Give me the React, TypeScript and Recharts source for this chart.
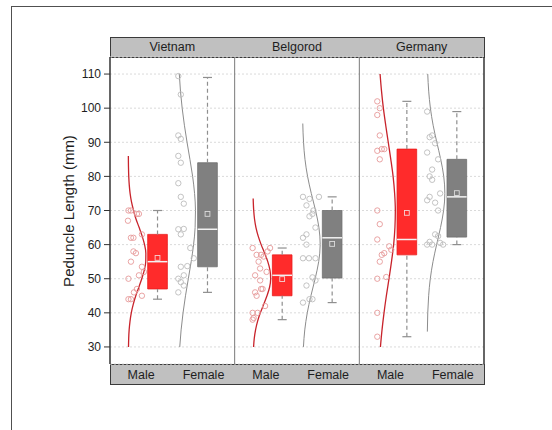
import React from "react";
import {
  ComposedChart,
  Scatter,
  Line,
  XAxis,
  YAxis,
  CartesianGrid,
  ReferenceArea,
  ReferenceLine,
} from "recharts";

const SITES = ["Vietnam", "Belgorod", "Germany"];
const SEXES = ["Male", "Female"];
const Y_TICKS = [30, 40, 50, 60, 70, 80, 90, 100, 110];
const Y_MINOR_TICKS = [35, 45, 55, 65, 75, 85, 95, 105];

// [min, q1, median, q3, max, mean] per site
const MALE_BOXES = [
  [44, 47, 55, 63, 70, 56.1],
  [38, 45, 51, 57, 59, 49.9],
  [33, 57, 61.5, 88, 102, 69.3],
];
const FEMALE_BOXES = [
  [46, 53.5, 64.5, 84, 109, 69],
  [43, 50.2, 62, 70, 74, 60.2],
  [60, 62.2, 74, 85, 99, 75.1],
];

// raw points: [length, jitter position inside the panel]
const VIETNAM_MALE = [
  [70, 0.37], [70, 0.42], [69, 0.54], [69, 0.58], [67, 0.36], [63, 0.64], [62, 0.42],
  [62, 0.47], [58, 0.47], [57.5, 0.52], [55, 0.42], [53.5, 0.64], [52, 0.68], [51, 0.58],
  [50, 0.37], [47, 0.54], [46, 0.48], [45, 0.64], [44, 0.37], [44, 0.42],
];
const VIETNAM_FEMALE = [
  [109.4, 1.37], [104, 1.42], [92, 1.37], [91, 1.42], [86, 1.37], [84, 1.42], [78, 1.37],
  [74, 1.42], [72, 1.48], [64.5, 1.37], [64.6, 1.48], [63, 1.42], [59, 1.61], [56, 1.68],
  [53.5, 1.42], [53.7, 1.55], [51, 1.48], [50, 1.37], [49, 1.42], [48, 1.48], [46, 1.37],
];
const BELGOROD_MALE = [
  [59, 0.36], [59, 0.71], [58, 0.66], [57, 0.44], [57, 0.53], [56.5, 0.58], [55, 0.48],
  [53, 0.51], [52, 0.64], [51, 0.41], [49.5, 0.51], [47, 0.53], [47, 0.56], [46, 0.41],
  [45, 0.44], [42, 0.61], [40, 0.36], [40, 0.46], [38.5, 0.38], [38, 0.36],
];
const BELGOROD_FEMALE = [
  [74, 1.37], [73.4, 1.5], [74, 1.69], [71.5, 1.44], [70, 1.58], [69, 1.56], [68.3, 1.5],
  [65, 1.62], [63, 1.44], [62, 1.37], [60, 1.44], [56, 1.37], [56, 1.49], [56, 1.62],
  [50.4, 1.56], [49.5, 1.62], [48, 1.44], [43, 1.37], [44, 1.5], [44, 1.56],
];
const GERMANY_MALE = [
  [102, 0.36], [100, 0.41], [98, 0.36], [92, 0.41], [87.5, 0.36], [88, 0.45], [88, 0.5],
  [85, 0.41], [70, 0.36], [66, 0.41], [61.5, 0.36], [59.5, 0.6], [58.5, 0.64], [57.5, 0.5],
  [57, 0.45], [55, 0.41], [50.5, 0.54], [50, 0.36], [40, 0.36], [33, 0.36],
];
const GERMANY_FEMALE = [
  [99, 1.36], [91.5, 1.41], [92, 1.46], [89.7, 1.52], [87, 1.36], [85, 1.58], [82, 1.46],
  [80, 1.41], [79, 1.46], [75, 1.62], [74, 1.41], [73, 1.36], [72.3, 1.52], [70, 1.58],
  [63, 1.52], [62.5, 1.58], [60, 1.36], [60.8, 1.41], [60, 1.46], [60.5, 1.62], [60, 1.68],
];

// distribution curves: [length, width of the curve]
const VIETNAM_MALE_CURVE = [
  [30, 0.004], [32.5, 0.008], [35, 0.017], [37.5, 0.034], [40, 0.06], [42.5, 0.099],
  [45, 0.15], [47.5, 0.211], [50, 0.27], [52.5, 0.321], [55, 0.35], [57.5, 0.352],
  [60, 0.326], [62.5, 0.278], [65, 0.218], [67.5, 0.154], [70, 0.105], [72.5, 0.064],
  [75, 0.036], [77.5, 0.019], [80, 0.009], [82.5, 0.004], [86, 0.001],
];
const VIETNAM_FEMALE_CURVE = [
  [30, 0.039], [35, 0.066], [40, 0.105], [45, 0.154], [50, 0.211], [55, 0.268],
  [60, 0.316], [65, 0.347], [70, 0.354], [75, 0.336], [80, 0.297], [85, 0.243],
  [90, 0.185], [95, 0.132], [100, 0.087], [105, 0.053], [110, 0.03],
];
const BELGOROD_MALE_CURVE = [
  [30, 0.012], [32.5, 0.026], [35, 0.052], [37.5, 0.092], [40, 0.148], [42.5, 0.215],
  [45, 0.281], [47.5, 0.333], [50, 0.355], [52.5, 0.341], [55, 0.297], [57.5, 0.233],
  [60, 0.164], [62.5, 0.105], [65, 0.06], [67.5, 0.031], [70, 0.015], [73.5, 0.004],
];
const BELGOROD_FEMALE_CURVE = [
  [30, 0.019], [35, 0.046], [40, 0.096], [45, 0.169], [50, 0.254], [55, 0.325],
  [60, 0.355], [65, 0.33], [70, 0.262], [75, 0.177], [80, 0.102], [85, 0.05],
  [90, 0.021], [95.5, 0.006],
];
const GERMANY_MALE_CURVE = [
  [30, 0.056], [35, 0.088], [40, 0.128], [45, 0.175], [50, 0.228], [55, 0.278],
  [60, 0.321], [65, 0.347], [70, 0.355], [75, 0.341], [80, 0.31], [85, 0.264],
  [90, 0.213], [95, 0.162], [100, 0.115], [105, 0.078], [110, 0.049],
];
const GERMANY_FEMALE_CURVE = [
  [34.5, 0.004], [40, 0.012], [45, 0.03], [50, 0.063], [55, 0.117], [60, 0.19],
  [65, 0.268], [70, 0.33], [75, 0.355], [80, 0.333], [85, 0.272], [90, 0.194],
  [95, 0.12], [100, 0.065], [105, 0.031], [110, 0.012],
];

const POINTS = [
  [VIETNAM_MALE, VIETNAM_FEMALE],
  [BELGOROD_MALE, BELGOROD_FEMALE],
  [GERMANY_MALE, GERMANY_FEMALE],
];
const CURVES = [
  [VIETNAM_MALE_CURVE, VIETNAM_FEMALE_CURVE],
  [BELGOROD_MALE_CURVE, BELGOROD_FEMALE_CURVE],
  [GERMANY_MALE_CURVE, GERMANY_FEMALE_CURVE],
];
const BOXES = [MALE_BOXES, FEMALE_BOXES];

// layout inside one panel (x axis units)
const PANEL = 2.5;
const BOX_X = [0.953, 1.955];
const CURVE_BASE = [0.367, 1.36];
const BOX_HALF = 0.197;
const CAP_HALF = 0.09;

const BOX_FILL = ["#ff2b2b", "#808080"];
const BOX_STROKE = ["#e81c1c", "#6f6f6f"];
const POINT_STROKE = ["#e69a9a", "#bcbcbc"];
const CURVE_STROKE = ["#c8232b", "#8c8c8c"];
const MEAN_STROKE = ["#f6d2d2", "#dcdcdc"];
const WHISKER = "#8f8f8f";

const FONT = '"Liberation Sans", Arial, sans-serif';
const SEX_TICKS = [0, 1, 2].flatMap((p) => [p * PANEL + PANEL / 4, p * PANEL + (3 * PANEL) / 4]);
const SITE_TICKS = [0, 1, 2].map((p) => p * PANEL + PANEL / 2);

const ring = (stroke: string) => (props: any) =>
  <circle cx={props.cx} cy={props.cy} r={2.7} fill="none" stroke={stroke} strokeWidth={0.9} />;

const meanMark = (stroke: string) => (props: any) =>
  <rect x={props.cx - 2.4} y={props.cy - 2.4} width={4.8} height={4.8} fill="none" stroke={stroke} strokeWidth={0.9} />;

function Strip({ top, height }: { top: number; height: number }) {
  return (
    <div
      style={{
        position: "absolute",
        left: 109.5,
        top,
        width: 375,
        height,
        boxSizing: "border-box",
        background: "#c0c0c0",
        border: "1.5px solid #3a3a3a",
      }}
    />
  );
}

export default function App() {
  const series: React.ReactNode[] = [];
  SITES.forEach((_, p) => {
    const off = p * PANEL;
    SEXES.forEach((__, s) => {
      const [min, q1, med, q3, max, mean] = BOXES[s][p];
      const c = off + BOX_X[s];
      const key = `${p}-${s}`;
      series.push(
        <ReferenceArea
          key={`box-${key}`}
          x1={c - BOX_HALF}
          x2={c + BOX_HALF}
          y1={q1}
          y2={q3}
          fill={BOX_FILL[s]}
          fillOpacity={1}
          stroke={BOX_STROKE[s]}
          strokeWidth={0.8}
        />,
        <ReferenceLine key={`wu-${key}`} segment={[{ x: c, y: q3 }, { x: c, y: max }]} stroke={WHISKER} strokeWidth={1.2} strokeDasharray="4 3" />,
        <ReferenceLine key={`wl-${key}`} segment={[{ x: c, y: min }, { x: c, y: q1 }]} stroke={WHISKER} strokeWidth={1.2} strokeDasharray="4 3" />,
        <ReferenceLine key={`cu-${key}`} segment={[{ x: c - CAP_HALF, y: max }, { x: c + CAP_HALF, y: max }]} stroke={WHISKER} strokeWidth={1.2} />,
        <ReferenceLine key={`cl-${key}`} segment={[{ x: c - CAP_HALF, y: min }, { x: c + CAP_HALF, y: min }]} stroke={WHISKER} strokeWidth={1.2} />,
        <ReferenceLine key={`md-${key}`} segment={[{ x: c - BOX_HALF, y: med }, { x: c + BOX_HALF, y: med }]} stroke="#f2f2f2" strokeWidth={1.5} />,
        <Line
          key={`curve-${key}`}
          data={CURVES[p][s].map(([v, w]) => ({ x: off + CURVE_BASE[s] + w, y: v }))}
          dataKey="y"
          type="monotoneY"
          dot={false}
          activeDot={false}
          stroke={CURVE_STROKE[s]}
          strokeWidth={s === 0 ? 1.3 : 1}
          isAnimationActive={false}
        />,
        <Scatter
          key={`pts-${key}`}
          data={POINTS[p][s].map(([v, x]) => ({ x: off + x, y: v }))}
          shape={ring(POINT_STROKE[s])}
          isAnimationActive={false}
        />,
        <Scatter
          key={`mean-${key}`}
          xAxisId="top"
          data={[{ x: c, y: mean }]}
          shape={meanMark(MEAN_STROKE[s])}
          isAnimationActive={false}
        />
      );
    });
  });

  return (
    <div
      style={{
        position: "absolute",
        left: 0,
        top: 0,
        width: 552,
        height: 430,
        overflow: "hidden",
        background: "#ffffff",
        fontFamily: FONT,
      }}
    >
      <div
        style={{
          position: "absolute",
          left: 11,
          top: 6,
          width: 600,
          height: 500,
          border: "1px solid #505050",
        }}
      />
      <Strip top={36.5} height={21} />
      <Strip top={363.5} height={21.5} />
      <div style={{ position: "absolute", left: 0, top: 0 }}>
        <ComposedChart width={552} height={430} margin={{ top: 37, right: 68, bottom: 45, left: 65 }}>
          <CartesianGrid vertical={false} stroke="#dadada" strokeDasharray="2 2" />
          <XAxis
            type="number"
            dataKey="x"
            domain={[0, PANEL * 3]}
            allowDataOverflow
            ticks={SEX_TICKS}
            interval={0}
            tickFormatter={(v: number) => SEXES[SEX_TICKS.indexOf(v) % 2]}
            axisLine={false}
            tickLine={false}
            tickSize={0}
            tickMargin={6}
            height={21}
            tick={{ fontSize: 12.5, fill: "#1e1e1e", fontFamily: FONT }}
          />
          <XAxis
            xAxisId="top"
            orientation="top"
            type="number"
            dataKey="x"
            domain={[0, PANEL * 3]}
            allowDataOverflow
            ticks={SITE_TICKS}
            interval={0}
            tickFormatter={(v: number) => SITES[SITE_TICKS.indexOf(v)]}
            axisLine={false}
            tickLine={false}
            tickSize={0}
            tickMargin={6}
            height={20}
            tick={{ fontSize: 12.5, fill: "#1e1e1e", fontFamily: FONT }}
          />
          <YAxis
            yAxisId="minor"
            type="number"
            domain={[25, 115]}
            allowDataOverflow
            ticks={Y_MINOR_TICKS}
            interval={0}
            tick={false}
            tickSize={3.5}
            tickLine={{ stroke: "#333", strokeWidth: 1 }}
            axisLine={false}
            width={0}
          />
          <YAxis
            type="number"
            dataKey="y"
            domain={[25, 115]}
            allowDataOverflow
            ticks={Y_TICKS}
            interval={0}
            tickSize={6}
            tickMargin={3}
            width={45}
            axisLine={{ stroke: "#333", strokeWidth: 1.5 }}
            tickLine={{ stroke: "#333", strokeWidth: 1 }}
            tick={{ fontSize: 12, fill: "#1e1e1e", fontFamily: FONT }}
          />
          <ReferenceLine x={PANEL} stroke="#7a7a7a" strokeWidth={1} />
          <ReferenceLine x={PANEL * 2} stroke="#7a7a7a" strokeWidth={1} />
          <ReferenceLine x={PANEL * 3} stroke="#333" strokeWidth={1.5} />
          {series}
        </ComposedChart>
      </div>
      <div
        style={{
          position: "absolute",
          left: 69 - 110,
          top: 210.5 - 10,
          width: 220,
          height: 20,
          lineHeight: "20px",
          textAlign: "center",
          fontSize: 15,
          color: "#1e1e1e",
          transform: "rotate(-90deg)",
        }}
      >
        Peduncle Length (mm)
      </div>
    </div>
  );
}
